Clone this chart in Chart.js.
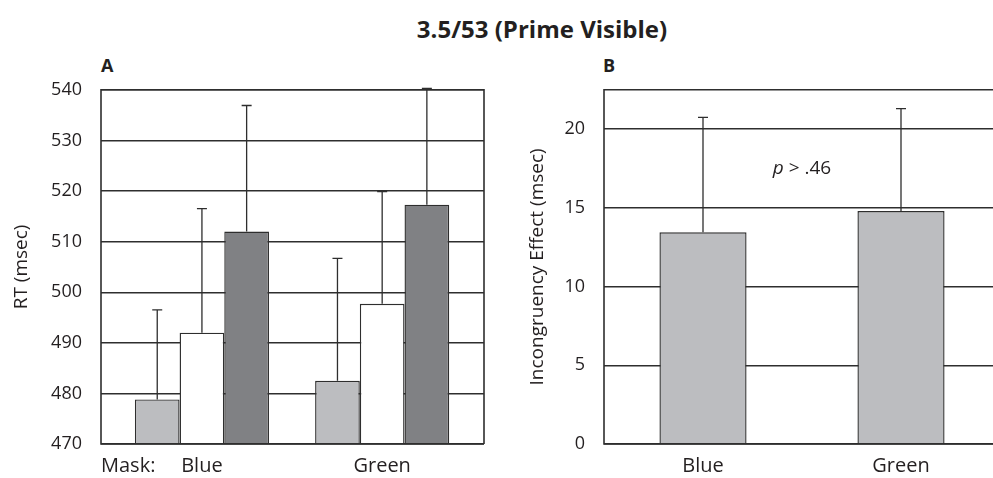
<!DOCTYPE html>
<html>
<head>
<meta charset="utf-8">
<script src="https://cdn.jsdelivr.net/npm/chart.js@4/dist/chart.umd.min.js"></script>
<style>
  html, body { margin: 0; padding: 0; background: #fff; overflow: hidden; }
  body { width: 993px; height: 478px; position: relative; font-family: "Open Sans", sans-serif; color: #231f20; }
  .title { position: absolute; left: 0; width: 1084px; top: 12px; text-align: center; font-weight: 700; font-size: 24px; }
  .panel { position: absolute; font-weight: 700; font-size: 18px; top: 53px; }
  .wrap { position: absolute; top: 60px; height: 418px; }
</style>
</head>
<body>
<div class="title">3.5/53 (Prime Visible)</div>
<div class="panel" style="left:101px">A</div>
<div class="panel" style="left:603px">B</div>
<div class="wrap" style="left:0; width:490px"><canvas id="rt-chart"></canvas></div>
<div class="wrap" style="left:500px; width:500px"><canvas id="eff-chart"></canvas></div>
<script>
// panel A: RT by mask colour, three bars per mask
const maskLabels = ["Blue", "Green"];
const maskPositions = [0, 1];
const rtTicks = [470, 480, 490, 500, 510, 520, 530, 540];
const lightMeans = [478.8, 482.5];
const lightErrors = [17.7, 24.2];
const whiteMeans = [492.0, 497.7];
const whiteErrors = [24.5, 22.2];
const darkMeans = [512.0, 517.3];
const darkErrors = [24.9, 23.0];

// panel B: incongruency effect
const effLabels = ["Blue", "Green"];
const effTicks = [0, 5, 10, 15, 20];
const effMeans = [13.45, 14.8];
const effErrors = [7.3, 6.5];
const pText = ".46";

const ink = "#231f20";
const lineCol = "#2e2e2e";
const fontFam = "'Open Sans', sans-serif";

// error bars drawn upward from the top of each bar
const errorBars = {
    id: "errorBars",
    afterDatasetsDraw(chart) {
        const ctx = chart.ctx;
        const yScale = chart.scales.y;
        ctx.save();
        ctx.strokeStyle = lineCol;
        ctx.lineWidth = 1.3;
        chart.data.datasets.forEach((ds, i) => {
            if (!ds.errors) return;
            const meta = chart.getDatasetMeta(i);
            meta.data.forEach((bar, j) => {
                const v = typeof ds.data[j] === "object" ? ds.data[j].y : ds.data[j];
                const top = yScale.getPixelForValue(v + ds.errors[j]);
                ctx.beginPath();
                ctx.moveTo(bar.x, bar.y);
                ctx.lineTo(bar.x, top);
                ctx.moveTo(bar.x - 5, top);
                ctx.lineTo(bar.x + 5, top);
                ctx.stroke();
            });
        });
        ctx.restore();
    }
};

// box round the plot area
const frame = {
    id: "frame",
    afterDraw(chart, args, opts) {
        const { left, right, top, bottom } = chart.chartArea;
        const ctx = chart.ctx;
        ctx.save();
        ctx.strokeStyle = lineCol;
        ctx.lineWidth = 1.6;
        ctx.beginPath();
        ctx.moveTo(right, bottom);
        ctx.lineTo(left, bottom);
        ctx.lineTo(left, top);
        ctx.lineTo(right, top);
        if (opts.closeRight) ctx.lineTo(right, bottom);
        ctx.stroke();
        if (opts.maskText) {
            ctx.fillStyle = ink;
            ctx.font = "20px " + fontFam;
            ctx.textBaseline = "middle";
            ctx.textAlign = "left";
            ctx.fillText(opts.maskText, left, chart.scales.x.top + 22);
        }
        ctx.restore();
    }
};

// "p > .46" note between the bars
const pNote = {
    id: "pNote",
    afterDraw(chart) {
        const ctx = chart.ctx;
        const x = (chart.scales.x.getPixelForValue(0) + chart.scales.x.getPixelForValue(1)) / 2;
        const y = chart.scales.y.getPixelForValue(17.5);
        ctx.save();
        ctx.fillStyle = ink;
        ctx.textBaseline = "middle";
        ctx.textAlign = "left";
        ctx.font = "italic 19px " + fontFam;
        const w1 = ctx.measureText("p").width;
        ctx.font = "19px " + fontFam;
        const rest = " > " + pText;
        const w2 = ctx.measureText(rest).width;
        const x0 = x - (w1 + w2) / 2;
        ctx.font = "italic 19px " + fontFam;
        ctx.fillText("p", x0, y);
        ctx.font = "19px " + fontFam;
        ctx.fillText(rest, x0 + w1, y);
        ctx.restore();
    }
};

function yAxis(min, max, ticks, title, width, titlePad) {
    return {
        min, max,
        beginAtZero: false,
        afterFit: (s) => { s.width = width; },
        afterBuildTicks: (s) => { s.ticks = ticks.map(v => ({ value: v })); },
        grid: { color: lineCol, lineWidth: 1.4, drawTicks: false },
        border: { display: false },
        ticks: { color: ink, padding: 19, font: { family: fontFam, size: 18 } },
        title: { display: true, text: title, color: ink, padding: { top: titlePad, bottom: 0 }, font: { family: fontFam, size: 19 } }
    };
}

const point = (xs, ys) => xs.map((x, i) => ({ x, y: ys[i] }));

new Chart(document.getElementById("rt-chart"), {
    type: "bar",
    data: {
        datasets: [
            { data: point(maskPositions, lightMeans), errors: lightErrors, backgroundColor: "#bcbdc0" },
            { data: point(maskPositions, whiteMeans), errors: whiteErrors, backgroundColor: "#ffffff" },
            { data: point(maskPositions, darkMeans), errors: darkErrors, backgroundColor: "#808184" }
        ]
    },
    options: {
        responsive: true,
        maintainAspectRatio: false,
        animation: false,
        events: [],
        layout: { padding: { top: 27, right: 6, left: 0, bottom: 0 } },
        datasets: { bar: { base: 470, borderColor: lineCol, borderWidth: 1.4, categoryPercentage: 0.744, barPercentage: 1 } },
        plugins: { legend: { display: false }, tooltip: { enabled: false }, frame: { closeRight: true, maskText: "Mask:" } },
        scales: {
            x: {
                type: "linear",
                min: -0.56, max: 1.565,
                offset: false,
                afterFit: (s) => { s.height = 34; },
                afterBuildTicks: (s) => { s.ticks = maskPositions.map(v => ({ value: v })); },
                grid: { display: false },
                border: { display: false },
                ticks: { color: ink, padding: 2, maxRotation: 0, font: { family: fontFam, size: 20 },
                    callback: (v) => maskLabels[maskPositions.indexOf(v)] }
            },
            y: yAxis(470, 540, rtTicks, "RT (msec)", 101, 10)
        }
    },
    plugins: [errorBars, frame]
});

new Chart(document.getElementById("eff-chart"), {
    type: "bar",
    data: {
        labels: effLabels,
        datasets: [
            { data: effMeans, errors: effErrors, backgroundColor: "#bcbdc0" }
        ]
    },
    options: {
        responsive: true,
        maintainAspectRatio: false,
        animation: false,
        events: [],
        layout: { padding: { top: 28, right: 0, left: 0, bottom: 0 } },
        datasets: { bar: { borderColor: lineCol, borderWidth: 1.4, categoryPercentage: 0.44, barPercentage: 1 } },
        plugins: { legend: { display: false }, tooltip: { enabled: false }, frame: { closeRight: false } },
        scales: {
            x: {
                afterFit: (s) => { s.height = 34; },
                grid: { display: false },
                border: { display: false },
                ticks: { color: ink, padding: 2, maxRotation: 0, font: { family: fontFam, size: 20 } }
            },
            y: yAxis(0, 22.5, effTicks, "Incongruency Effect (msec)", 104, 26)
        }
    },
    plugins: [errorBars, frame, pNote]
});
</script>
</body>
</html>
